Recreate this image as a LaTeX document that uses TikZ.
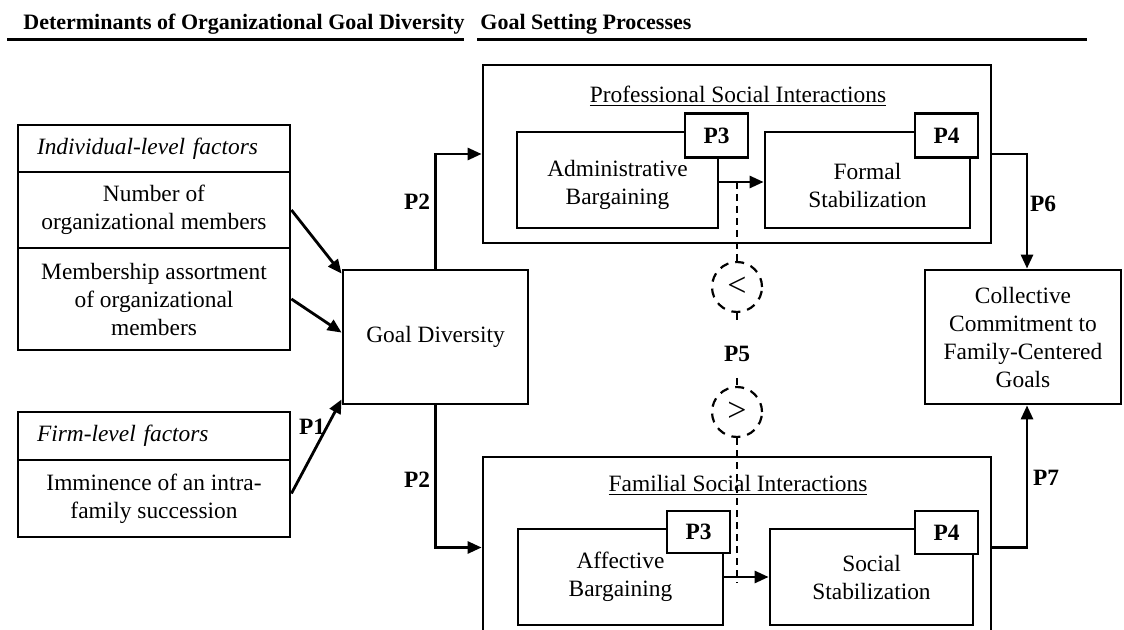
\documentclass[tikz,border=0pt]{standalone}
\usepackage{fontspec}
\setmainfont{Liberation Serif}
\usetikzlibrary{arrows.meta}
\begin{document}
\begin{tikzpicture}[x=0.5pt,y=-0.5pt,
  txt/.style={font=\fontsize{11.7}{14}\selectfont},
  bx/.style={draw, line width=1.4pt, inner sep=0pt, align=center, fill=white, txt},
  pbox/.style={bx, font=\fontsize{11.7}{14}\selectfont\bfseries, minimum width=31.5pt, minimum height=22pt},
  arr/.style={line width=1.4pt, -{Triangle[length=7pt,width=6pt]}},
  lbl/.style={font=\fontsize{11.7}{14}\selectfont\bfseries, inner sep=0pt},
  dsh/.style={line width=1.1pt, dash pattern=on 3.5pt off 2.5pt},
  dcirc/.style={circle, draw, line width=1.1pt, dash pattern=on 4.5pt off 3.5pt, minimum size=25pt, inner sep=0pt, font=\fontsize{17}{17}\selectfont},
  head/.style={font=\fontsize{11}{13}\selectfont\bfseries, inner sep=0pt, anchor=base west},
  lowtxt/.style={label={[txt, align=center, inner sep=0pt, yshift=-2.5pt]center:#1}},
]
\path[use as bounding box] (0,0) rectangle (1124,630);
\clip (0,0) rectangle (1124,630);

% headers
\node[head] (h1) at (23,30) {Determinants of Organizational Goal Diversity};
\node[head] (h2) at (480,30) {Goal Setting Processes};
\draw[line width=1.5pt] (7,40) -- (464,40);
\draw[line width=1.5pt] (477,40) -- (1087,40);

% left determinants
\node[bx, text width=117pt, align=left, inner xsep=9.5pt, minimum height=23.5pt,
      font=\fontsize{11.7}{14}\selectfont\itshape] (ih) at (154,148.5) {Individual-level factors};
\node[bx, minimum width=136pt, minimum height=38pt] (r1) at (154,210) {Number of\\organizational members};
\node[bx, minimum width=136pt, minimum height=51pt] (r2) at (154,299) {Membership assortment\\of organizational\\members};
\node[bx, text width=117pt, align=left, inner xsep=9.5pt, minimum height=24pt,
      font=\fontsize{11.7}{14}\selectfont\itshape] (fh) at (154,436) {Firm-level factors};
\node[bx, minimum width=136pt, minimum height=38.5pt] (fr) at (154,498.5) {Imminence of an intra-\\family succession};

% goal diversity
\node[bx, minimum width=92.5pt, minimum height=67pt] (gd) at (435.5,337) {Goal Diversity};

% professional
\node[bx, minimum width=254pt, minimum height=89pt] (prof) at (737,154) {};
\node[txt, inner sep=0pt] (pt) at (738,96) {\underline{Professional Social Interactions}};
\node[bx, minimum width=100.5pt, minimum height=48pt, lowtxt={Administrative\\Bargaining}] (admin) at (617.5,180) {};
\node[pbox] (p3a) at (716.5,135.5) {P3};
\node[bx, minimum width=102.5pt, minimum height=48pt, lowtxt={Formal\\Stabilization}] (formal) at (867.5,180) {};
\node[pbox] (p4a) at (946.5,135.5) {P4};

% familial
\node[bx, minimum width=254pt, minimum height=90.5pt] (fam) at (737,547.5) {};
\node[txt, inner sep=0pt] (ft) at (738,485) {\underline{Familial Social Interactions}};
\node[bx, minimum width=102.5pt, minimum height=48pt] (aff) at (620.5,577) {Affective\\Bargaining};
\node[pbox, minimum height=21pt] (p3b) at (698.5,532) {P3};
\node[bx, minimum width=101.5pt, minimum height=48pt] (soc) at (871.5,577) {Social\\Stabilization};
\node[pbox, minimum height=21.5pt] (p4b) at (946.5,532.5) {P4};

% outcome
\node[bx, minimum width=98pt, minimum height=67pt] (coll) at (1023,337) {Collective\\Commitment to\\Family-Centered\\Goals};

% connectors
\draw[arr] (r1.east) -- ([yshift=-2.5pt]gd.north west);
\draw[arr] (r2.east) -- ([yshift=-32pt]gd.north west);
\draw[arr] ([yshift=2.5pt]fr.east) -- ([yshift=3pt]gd.south west);
\draw[arr] (gd.north) |- (prof.west);
\draw[arr] (gd.south) |- (fam.west);
\draw[arr] ([yshift=-1pt]admin.east) -- ([yshift=-1pt]formal.west);
\draw[arr] (aff.east) -- (soc.west);
\draw[arr] (prof.east) -| ([xshift=2pt]coll.north);
\draw[arr] (fam.east) -| ([xshift=2pt]coll.south);

% labels
\node[lbl] (lp2a) at (417,202) {P2};
\node[lbl] (lp2b) at (417,480) {P2};
\node[lbl] (lp1) at (312,427) {P1};
\node[lbl] (lp6) at (1043,204) {P6};
\node[lbl] (lp7) at (1046,478) {P7};
\node[lbl] (lp5) at (737,354) {P5};

% comparison markers
\node[dcirc] (c1) at (737,287) {<};
\node[dcirc] (c2) at (737,412) {>};
\coordinate (dtop) at (737,182);
\coordinate (t1) at (737,322);
\coordinate (t2) at (737,378);
\coordinate (dbot) at (737,583);
\draw[dsh] (dtop) -- (c1.north);
\draw[dsh] (c1.south) -- (t1);
\draw[dsh] (t2) -- (c2.north);
\draw[dsh] (c2.south) -- (dbot);
\end{tikzpicture}
\end{document}
